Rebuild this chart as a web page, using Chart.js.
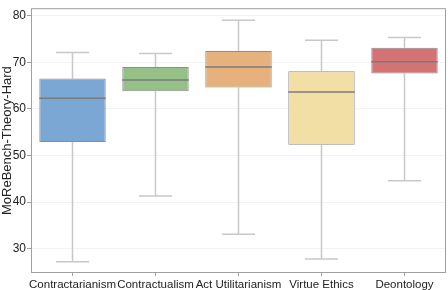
<!DOCTYPE html>
<html><head><meta charset="utf-8">
<script src="https://cdn.jsdelivr.net/npm/chart.js@4"></script>
<style>html,body{margin:0;padding:0;background:#fff}#wrap{width:448px;height:290px}</style>
</head><body><div id="wrap"><canvas id="c" width="448" height="290"></canvas></div>
<script>
const categories = ['Contractarianism','Contractualism','Act Utilitarianism','Virtue Ethics','Deontology'];
const whiskerLow  = [27.2, 41.3, 33.1, 27.8, 44.6];
const q1          = [52.9, 63.8, 64.6, 52.3, 67.6];
const median      = [62.3, 66.2, 69.0, 63.6, 70.1];
const q3          = [66.5, 69.0, 72.4, 68.1, 73.1];
const whiskerHigh = [72.1, 71.9, 79.0, 74.7, 75.3];
const yTicks      = [30, 40, 50, 60, 70, 80];
const boxColors   = ['#7ba7d4','#95c087','#e6b17c','#f2dfa5','#d37373'];

const boxPlugin = {
  id: 'boxParts',
  beforeDatasetsDraw(chart) {
    const ctx = chart.ctx, x = chart.scales.x, y = chart.scales.y;
    const meta = chart.getDatasetMeta(0);
    ctx.save();
    ctx.strokeStyle = '#c8c8c8';
    ctx.lineWidth = 1.5;
    categories.forEach((c, i) => {
      const cx = x.getPixelForValue(i);
      const half = meta.data[i].width / 4;
      ctx.beginPath();
      ctx.moveTo(cx, y.getPixelForValue(whiskerLow[i]));
      ctx.lineTo(cx, y.getPixelForValue(q1[i]));
      ctx.moveTo(cx, y.getPixelForValue(q3[i]));
      ctx.lineTo(cx, y.getPixelForValue(whiskerHigh[i]));
      ctx.moveTo(cx - half, y.getPixelForValue(whiskerLow[i]));
      ctx.lineTo(cx + half, y.getPixelForValue(whiskerLow[i]));
      ctx.moveTo(cx - half, y.getPixelForValue(whiskerHigh[i]));
      ctx.lineTo(cx + half, y.getPixelForValue(whiskerHigh[i]));
      ctx.stroke();
    });
    ctx.restore();
  },
  afterDatasetsDraw(chart) {
    const ctx = chart.ctx, x = chart.scales.x, y = chart.scales.y;
    const meta = chart.getDatasetMeta(0);
    ctx.save();
    ctx.strokeStyle = '#7a7a7a';
    ctx.lineWidth = 1.5;
    categories.forEach((c, i) => {
      const cx = x.getPixelForValue(i);
      const half = meta.data[i].width / 2;
      const py = y.getPixelForValue(median[i]);
      ctx.beginPath();
      ctx.moveTo(cx - half, py);
      ctx.lineTo(cx + half, py);
      ctx.stroke();
    });
    const a = chart.chartArea;
    ctx.strokeStyle = '#a0a0a0';
    ctx.lineWidth = 1;
    ctx.strokeRect(a.left + 0.5, a.top + 0.5, a.right - a.left - 1, a.bottom - a.top - 1);
    ctx.restore();
  }
};

new Chart(document.getElementById('c'), {
  type: 'bar',
  data: {
    labels: categories,
    datasets: [{
      data: categories.map((c, i) => [q1[i], q3[i]]),
      backgroundColor: boxColors,
      borderColor: '#8c8c8c',
      borderWidth: 1,
      borderSkipped: false,
      categoryPercentage: 1,
      barPercentage: 0.8
    }]
  },
  options: {
    responsive: false,
    animation: false,
    devicePixelRatio: 1,
    layout: { padding: { top: 2, right: 2, left: 0, bottom: 0 } },
    plugins: { legend: { display: false }, tooltip: { enabled: false } },
    scales: {
      x: {
        grid: { display: true, offset: false, color: 'rgba(0,0,0,0)', tickColor: '#a0a0a0', tickLength: 3 },
        border: { display: false },
        ticks: { color: '#222', padding: 2, font: { family: 'Liberation Sans', size: 11.5 }, maxRotation: 0, autoSkip: false },
        afterFit(s) { s.height = 17; }
      },
      y: {
        min: 24.8, max: 81.6,
        afterBuildTicks(s) { s.ticks = yTicks.map(v => ({ value: v })); },
        grid: { color: '#f3f3f3', tickColor: '#a0a0a0', tickLength: 4, lineWidth: 1 },
        border: { display: false },
        ticks: { color: '#222', padding: 1, font: { family: 'Liberation Sans', size: 12 } },
        title: { display: true, text: 'MoReBench-Theory-Hard', color: '#222', padding: { top: 0, bottom: 0 }, font: { family: 'Liberation Sans', size: 13 } },
        afterFit(s) { s.width = 31; }
      }
    }
  },
  plugins: [boxPlugin]
});
</script>
</body></html>
